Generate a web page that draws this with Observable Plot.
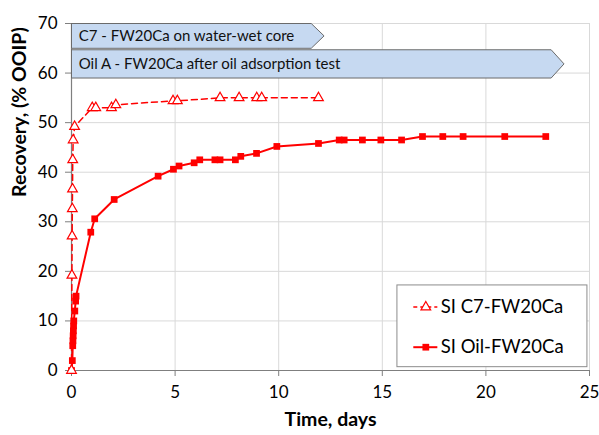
<!DOCTYPE html>
<html><head><meta charset="utf-8">
<script src="https://cdn.jsdelivr.net/npm/d3@7"></script>
<script src="https://cdn.jsdelivr.net/npm/@observablehq/plot@0.6"></script>
<style>body{margin:0;background:#fff} svg{display:block}</style>
</head><body><div id="chart"></div>
<script>
// ---- data ----
const c7Days = [0, 0.02, 0.03, 0.04, 0.05, 0.06, 0.08, 0.15, 1.0, 1.17, 1.93, 2.14, 4.9, 5.11, 7.17, 8.09, 8.94, 9.18, 11.92];
const c7Recovery = [0, 19.2, 27.1, 32.6, 36.6, 42.5, 46.5, 49.2, 53.0, 53.0, 53.0, 53.6, 54.4, 54.4, 55.0, 55.0, 55.0, 55.0, 55.0];
const oilDays = [0, 0.04, 0.06, 0.07, 0.08, 0.09, 0.1, 0.11, 0.16, 0.2, 0.22, 0.93, 1.12, 2.06, 4.18, 4.92, 5.19, 5.92, 6.19, 6.92, 7.17, 7.91, 8.17, 8.93, 9.91, 11.92, 12.92, 13.16, 14.04, 14.93, 15.93, 16.94, 17.92, 18.9, 20.91, 22.89];
const oilRecovery = [0, 2.0, 5.0, 6.0, 7.0, 8.0, 9.0, 10.0, 12.0, 14.0, 15.0, 27.9, 30.6, 34.5, 39.2, 40.6, 41.25, 41.9, 42.5, 42.5, 42.5, 42.5, 43.2, 43.8, 45.2, 45.8, 46.5, 46.5, 46.5, 46.5, 46.5, 47.2, 47.2, 47.2, 47.2, 47.2];
const seriesNames = ["SI C7-FW20Ca", "SI Oil-FW20Ca"];
const xTicks = [0, 5, 10, 15, 20, 25];
const yTicks = [0, 10, 20, 30, 40, 50, 60, 70];
const bannerLabels = ["C7 - FW20Ca on water-wet core", "Oil A - FW20Ca after oil adsorption test"];
const bannerTipDays = [12.19, 23.77];
const bannerTop = [70, 64.7];
const bannerBottom = [65, 59];
const xLabel = "Time, days";
const yLabel = "Recovery, (% OOIP)";

// ---- build tables ----
const c7 = c7Days.map((d, i) => ({day: d, rec: c7Recovery[i]}));
const oil = oilDays.map((d, i) => ({day: d, rec: oilRecovery[i]}));
const banners = bannerLabels.map((label, i) => {
  const tip = bannerTipDays[i], body = tip - 0.62, t = bannerTop[i], b = bannerBottom[i], m = (t + b) / 2;
  return {label, mid: m, pts: [[0, t], [body, t], [tip, m], [body, b], [0, b], [0, t]].map(([x, y]) => ({x, y, id: i}))};
});
const bannerPts = banners.flatMap(b => b.pts);

// legend (in data space of the frame)
const legBox = {x1: 15.73, x2: 24.9, y1: 0.67, y2: 17.16};
const legRows = [{name: seriesNames[0], y: 12.8}, {name: seriesNames[1], y: 4.7}];

const red = "#ff0000";
const chart = Plot.plot({
  width: 599, height: 435,
  marginLeft: 71, marginRight: 10, marginTop: 23, marginBottom: 65,
  x: {domain: [0, 25]},
  y: {domain: [0, 70]},
  style: {fontFamily: "Lato, 'Open Sans', sans-serif", fontSize: "17px", color: "#000", background: "#fff"},
  marks: [
    Plot.gridX(xTicks, {stroke: "#d9d9d9", strokeOpacity: 1}),
    Plot.gridY(yTicks, {stroke: "#d9d9d9", strokeOpacity: 1}),
    Plot.axisX({ticks: xTicks, tickSize: 6, tickPadding: 9, stroke: "#7f7f7f", fontSize: 17, label: null}),
    Plot.axisY({ticks: yTicks, tickSize: 6, tickPadding: 8, stroke: "#7f7f7f", fontSize: 17, label: null}),
    Plot.ruleY([0], {stroke: "#7f7f7f", strokeWidth: 1.2}),
    Plot.ruleX([0], {stroke: "#7f7f7f", strokeWidth: 1.2}),
    Plot.line(bannerPts, {x: "x", y: "y", z: "id", fill: "#c6d9f1", stroke: "#6b6b6b", strokeWidth: 1, curve: "linear"}),
    Plot.text(banners, {x: () => 0.35, y: "mid", text: "label", textAnchor: "start", fontSize: 15, fill: "#111"}),
    Plot.line(oil, {x: "day", y: "rec", stroke: red, strokeWidth: 2}),
    Plot.dot(oil, {x: "day", y: "rec", symbol: "square", r: 3.8, fill: red, stroke: "none"}),
    Plot.line(c7, {x: "day", y: "rec", stroke: red, strokeWidth: 1.5, strokeDasharray: "6,4"}),
    Plot.dot(c7, {x: "day", y: "rec", symbol: "triangle", r: 3.6, fill: "white", stroke: red, strokeWidth: 1.2}),
    // legend
    Plot.rect([legBox], {x1: "x1", x2: "x2", y1: "y1", y2: "y2", fill: "white", stroke: "#8c8c8c", strokeWidth: 1}),
    Plot.ruleY([legRows[0]], {y: "y", x1: () => 16.52, x2: () => 17.68, stroke: red, strokeWidth: 1.5, strokeDasharray: "4,3"}),
    Plot.ruleY([legRows[1]], {y: "y", x1: () => 16.52, x2: () => 17.68, stroke: red, strokeWidth: 2}),
    Plot.dot([legRows[0]], {x: () => 17.1, y: "y", symbol: "triangle", r: 3.6, fill: "white", stroke: red, strokeWidth: 1.2}),
    Plot.dot([legRows[1]], {x: () => 17.1, y: "y", symbol: "square", r: 3.8, fill: red}),
    Plot.text(legRows, {x: () => 17.82, y: "y", text: "name", textAnchor: "start", fontSize: 18.5, fill: "#000"}),
    // axis titles
    Plot.text([xLabel], {frameAnchor: "bottom", dy: 55, text: d => d, fontWeight: "bold", fontSize: 19.5}),
    Plot.text([yLabel], {frameAnchor: "left", dx: -52, rotate: -90, text: d => d, fontWeight: "bold", fontSize: 19.5})
  ]
});
document.getElementById("chart").append(chart);
</script>
</body></html>
